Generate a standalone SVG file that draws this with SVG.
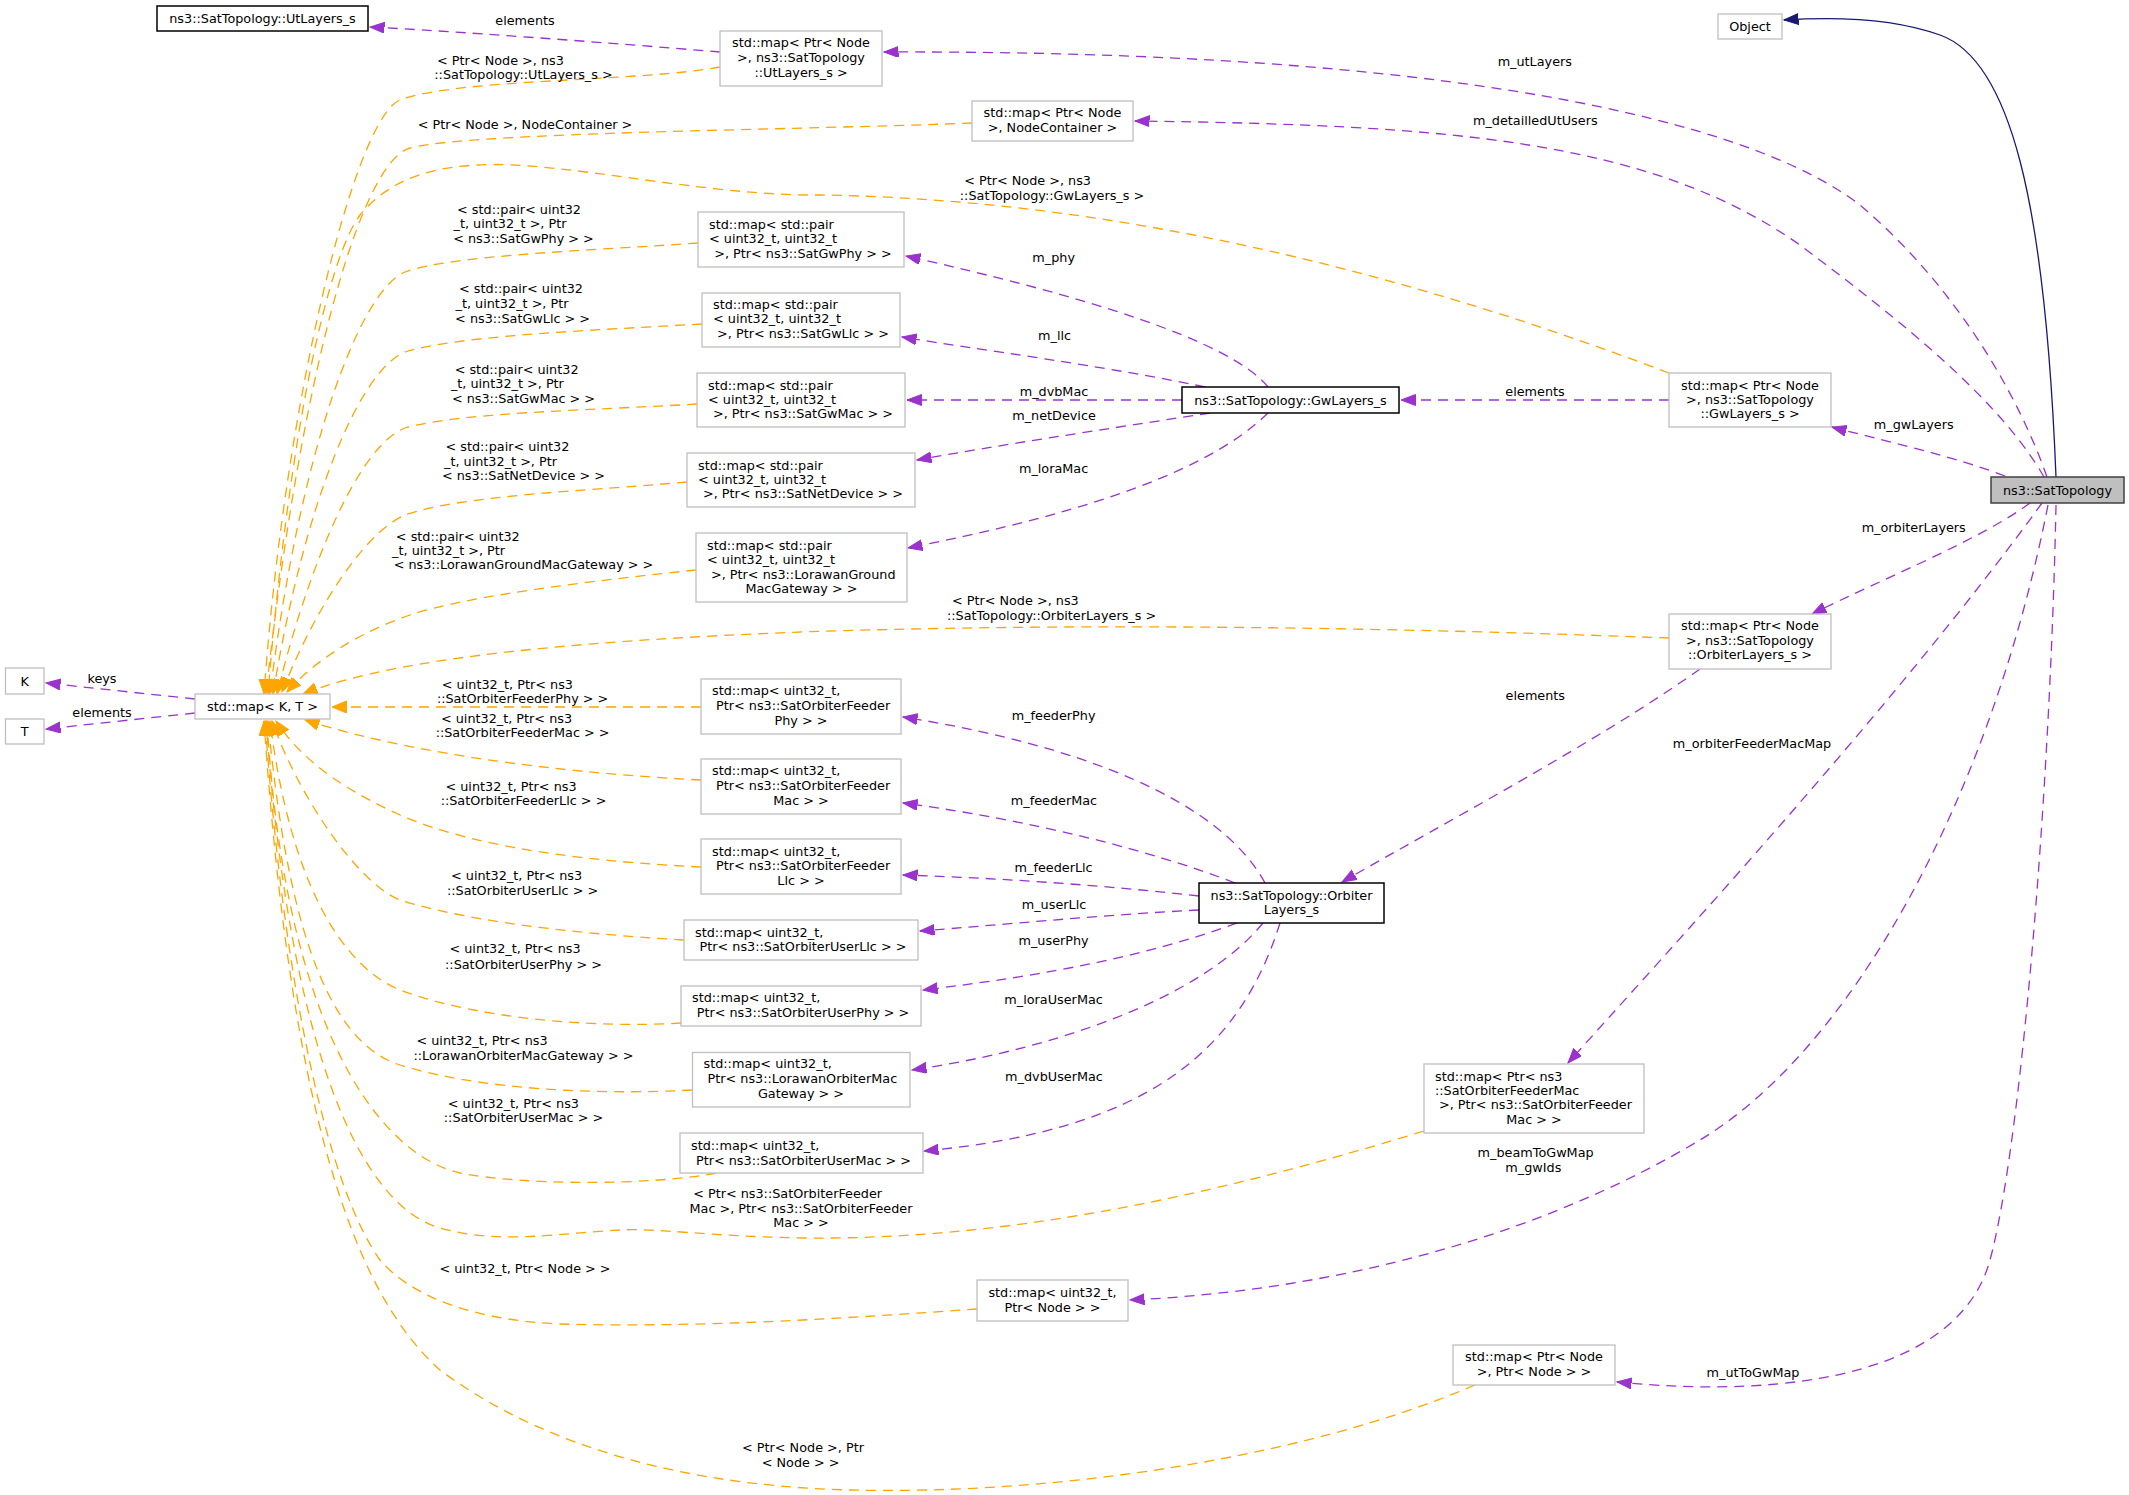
<svg xmlns="http://www.w3.org/2000/svg" width="2129" height="1495" viewBox="0 0 2129 1495">
<style>
text{font-family:"DejaVu Sans","Liberation Sans",sans-serif;font-size:12.8px;fill:#000}
.c{text-anchor:middle}
.node rect{fill:#fff;stroke:#bfbfbf;stroke-width:1.3}
.node.k rect{stroke:#000;stroke-width:1.5}
.node.root rect{fill:#bfbfbf;stroke:#404040;stroke-width:1.5}
.e{fill:none;stroke-width:1.3;stroke-dasharray:10,7}
.p{stroke:#9a32cd;marker-end:url(#ap)}
.o{stroke:#ffa500;marker-end:url(#ao)}
.n{fill:none;stroke:#191970;stroke-width:1.3;marker-end:url(#an)}
</style>
<defs>
<marker id="ap" markerUnits="userSpaceOnUse" markerWidth="16" markerHeight="12" refX="14.5" refY="5.5" orient="auto"><path d="M0,0 L14.5,5.5 L0,11 z" fill="#9a32cd" stroke="#9a32cd" stroke-width="1"/></marker>
<marker id="ao" markerUnits="userSpaceOnUse" markerWidth="16" markerHeight="13" refX="14.5" refY="6" orient="auto"><path d="M0,0 L14.5,6 L0,12 z" fill="#ffa500" stroke="#ffa500" stroke-width="1"/></marker>
<marker id="an" markerUnits="userSpaceOnUse" markerWidth="16" markerHeight="12" refX="14.5" refY="5.5" orient="auto"><path d="M0,0 L14.5,5.5 L0,11 z" fill="#191970" stroke="#191970" stroke-width="1"/></marker>
</defs>
<rect width="2129" height="1495" fill="#fff"/>
<g id="connectors">
<!-- orange template edges -->
<path class="e o" d="M720,67 C640,82 460,78 400,100 C355,118 285,400 264,694"/>
<path class="e o" d="M972,123 C800,130 470,132 410,148 C360,162 300,380 266,694"/>
<path class="e o" d="M1669,373 C1450,290 1150,200 820,195 C700,196 560,160 477,165 C420,168 385,185 360,215 C330,255 290,420 268,694"/>
<path class="e o" d="M698,243 C600,250 450,255 405,272 C360,290 300,450 270,694"/>
<path class="e o" d="M702,324 C600,330 460,335 405,352 C360,370 305,500 273,694"/>
<path class="e o" d="M697,404 C600,410 460,412 405,428 C360,445 310,560 277,694"/>
<path class="e o" d="M687,482 C600,490 460,495 405,515 C360,535 310,620 282,692"/>
<path class="e o" d="M696,570 C600,580 470,595 410,615 C360,632 315,660 287,692"/>
<path class="e o" d="M1669,638 C1400,628 1100,622 800,632 C600,640 400,655 303,694"/>
<path class="e o" d="M701,707 L332,707"/>
<path class="e o" d="M701,780 C600,775 430,760 305,720"/>
<path class="e o" d="M701,867 C600,862 480,850 400,815 C350,792 305,765 276,721"/>
<path class="e o" d="M684,940 C600,935 480,925 400,900 C360,885 300,800 272,721"/>
<path class="e o" d="M681,1023 C600,1028 480,1020 400,990 C340,965 290,880 270,721"/>
<path class="e o" d="M692,1090 C600,1095 480,1090 400,1065 C320,1040 285,900 268,721"/>
<path class="e o" d="M716,1173 C650,1186 520,1185 460,1173 C380,1155 285,1030 267,721"/>
<path class="e o" d="M1424,1131 C1200,1200 1000,1240 805,1238 C700,1236 660,1228 620,1230 C560,1233 500,1245 440,1228 C360,1205 290,1050 266,721"/>
<path class="e o" d="M977,1309 C850,1318 700,1328 560,1324 C470,1320 410,1295 380,1260 C330,1190 285,1000 265,721"/>
<path class="e o" d="M1475,1385 C1300,1460 1050,1495 850,1490 C650,1485 520,1430 440,1370 C350,1290 290,1100 264,721"/>
<!-- purple member edges -->
<path class="e p" d="M2047,477 C2020,400 1960,290 1860,205 C1750,120 1450,50 884,52"/>
<path class="e p" d="M2044,477 C2000,400 1900,320 1800,245 C1650,140 1450,125 1135,121"/>
<path class="e p" d="M2005,476 C1950,455 1880,440 1832,427"/>
<path class="e p" d="M2030,503 C1980,540 1880,580 1812,614"/>
<path class="e p" d="M2042,503 C1900,700 1660,960 1568,1063"/>
<path class="e p" d="M2048,505 C1990,800 1850,1050 1700,1140 C1550,1230 1350,1290 1130,1300"/>
<path class="e p" d="M2056,505 C2050,800 2020,1150 1990,1260 C1960,1370 1800,1400 1617,1382"/>
<path class="n" d="M2056,477 C2045,200 2010,60 1940,35 C1890,17 1830,17 1784,20"/>
<path class="e p" d="M1669,400 L1401,400"/>
<path class="e p" d="M1700,669 C1600,740 1450,820 1342,882"/>
<path class="e p" d="M720,52 C600,42 450,31 370,27"/>
<path class="e p" d="M1268,387 C1230,340 1080,295 906,256"/>
<path class="e p" d="M1205,387 C1100,365 980,350 902,337"/>
<path class="e p" d="M1182,400 L907,400"/>
<path class="e p" d="M1210,413 C1100,430 1000,445 917,460"/>
<path class="e p" d="M1268,413 C1200,480 1050,520 908,548"/>
<path class="e p" d="M1265,883 C1220,800 1080,745 903,717"/>
<path class="e p" d="M1235,883 C1150,850 1030,820 903,803"/>
<path class="e p" d="M1199,896 C1100,885 1000,878 903,875"/>
<path class="e p" d="M1199,910 C1100,915 1000,925 920,931"/>
<path class="e p" d="M1237,923 C1150,955 1050,975 923,990"/>
<path class="e p" d="M1263,923 C1200,1000 1050,1050 912,1070"/>
<path class="e p" d="M1280,923 C1240,1050 1150,1130 924,1151"/>
<path class="e p" d="M195,699 L46,683"/>
<path class="e p" d="M195,713 L46,729"/>
<!-- edge labels -->
<text class="c" x="525" y="25.3">elements</text>
<text class="c" x="500.5" y="64.6">&lt; Ptr&lt; Node &gt;, ns3</text>
<text class="c" x="523.5" y="79.3">::SatTopology::UtLayers_s &gt;</text>
<text class="c" x="525" y="128.9">&lt; Ptr&lt; Node &gt;, NodeContainer &gt;</text>
<text class="c" x="1027.6" y="184.9">&lt; Ptr&lt; Node &gt;, ns3</text>
<text class="c" x="1052" y="200.3">::SatTopology::GwLayers_s &gt;</text>
<text class="c" x="519" y="213.6">&lt; std::pair&lt; uint32</text>
<text class="c" x="510" y="228.3">_t, uint32_t &gt;, Ptr</text>
<text class="c" x="523.5" y="243.3">&lt; ns3::SatGwPhy &gt; &gt;</text>
<text class="c" x="521" y="293.3">&lt; std::pair&lt; uint32</text>
<text class="c" x="512" y="308.3">_t, uint32_t &gt;, Ptr</text>
<text class="c" x="522.6" y="322.9">&lt; ns3::SatGwLlc &gt; &gt;</text>
<text class="c" x="516.6" y="373.6">&lt; std::pair&lt; uint32</text>
<text class="c" x="507.4" y="388.3">_t, uint32_t &gt;, Ptr</text>
<text class="c" x="523.5" y="402.9">&lt; ns3::SatGwMac &gt; &gt;</text>
<text class="c" x="507.4" y="451.3">&lt; std::pair&lt; uint32</text>
<text class="c" x="500.5" y="465.6">_t, uint32_t &gt;, Ptr</text>
<text class="c" x="523.5" y="480.3">&lt; ns3::SatNetDevice &gt; &gt;</text>
<text class="c" x="457.8" y="540.6">&lt; std::pair&lt; uint32</text>
<text class="c" x="448.6" y="555.3">_t, uint32_t &gt;, Ptr</text>
<text class="c" x="523.5" y="569.3">&lt; ns3::LorawanGroundMacGateway &gt; &gt;</text>
<text class="c" x="1015.3" y="605.3">&lt; Ptr&lt; Node &gt;, ns3</text>
<text class="c" x="1051.6" y="620.3">::SatTopology::OrbiterLayers_s &gt;</text>
<text class="c" x="507.4" y="688.6">&lt; uint32_t, Ptr&lt; ns3</text>
<text class="c" x="522.6" y="703.3">::SatOrbiterFeederPhy &gt; &gt;</text>
<text class="c" x="506.5" y="723.3">&lt; uint32_t, Ptr&lt; ns3</text>
<text class="c" x="522.6" y="736.9">::SatOrbiterFeederMac &gt; &gt;</text>
<text class="c" x="511" y="791.3">&lt; uint32_t, Ptr&lt; ns3</text>
<text class="c" x="523.5" y="805.3">::SatOrbiterFeederLlc &gt; &gt;</text>
<text class="c" x="516.6" y="880.1">&lt; uint32_t, Ptr&lt; ns3</text>
<text class="c" x="522.6" y="895.1">::SatOrbiterUserLlc &gt; &gt;</text>
<text class="c" x="515" y="953.3">&lt; uint32_t, Ptr&lt; ns3</text>
<text class="c" x="523.5" y="968.8">::SatOrbiterUserPhy &gt; &gt;</text>
<text class="c" x="482" y="1044.9">&lt; uint32_t, Ptr&lt; ns3</text>
<text class="c" x="523.5" y="1060.4">::LorawanOrbiterMacGateway &gt; &gt;</text>
<text class="c" x="513.4" y="1108">&lt; uint32_t, Ptr&lt; ns3</text>
<text class="c" x="523.5" y="1122.2">::SatOrbiterUserMac &gt; &gt;</text>
<text class="c" x="787.6" y="1197.5">&lt; Ptr&lt; ns3::SatOrbiterFeeder</text>
<text class="c" x="801" y="1212.6">Mac &gt;, Ptr&lt; ns3::SatOrbiterFeeder</text>
<text class="c" x="801" y="1226.8">Mac &gt; &gt;</text>
<text class="c" x="525" y="1272.8">&lt; uint32_t, Ptr&lt; Node &gt; &gt;</text>
<text class="c" x="803" y="1451.9">&lt; Ptr&lt; Node &gt;, Ptr</text>
<text class="c" x="800.6" y="1467">&lt; Node &gt; &gt;</text>
<text class="c" x="1534.8" y="65.6">m_utLayers</text>
<text class="c" x="1535.3" y="125.3">m_detailledUtUsers</text>
<text class="c" x="1053.7" y="261.6">m_phy</text>
<text class="c" x="1054.6" y="340.3">m_llc</text>
<text class="c" x="1054" y="396.3">m_dvbMac</text>
<text class="c" x="1054" y="420.1">m_netDevice</text>
<text class="c" x="1053.6" y="473.3">m_loraMac</text>
<text class="c" x="1535" y="396.3">elements</text>
<text class="c" x="1913.7" y="428.6">m_gwLayers</text>
<text class="c" x="1913.7" y="532.3">m_orbiterLayers</text>
<text class="c" x="1535.3" y="700.3">elements</text>
<text class="c" x="1752" y="748.3">m_orbiterFeederMacMap</text>
<text class="c" x="1053.6" y="720.3">m_feederPhy</text>
<text class="c" x="1054" y="804.9">m_feederMac</text>
<text class="c" x="1053.6" y="871.9">m_feederLlc</text>
<text class="c" x="1054" y="909.4">m_userLlc</text>
<text class="c" x="1053.6" y="944.8">m_userPhy</text>
<text class="c" x="1053.6" y="1003.8">m_loraUserMac</text>
<text class="c" x="1054" y="1081.1">m_dvbUserMac</text>
<text class="c" x="1535.6" y="1157.3">m_beamToGwMap</text>
<text class="c" x="1533.3" y="1172.3">m_gwIds</text>
<text class="c" x="1753" y="1377.3">m_utToGwMap</text>
<text class="c" x="102" y="683.3">keys</text>
<text class="c" x="102" y="716.6">elements</text>
</g>
<g id="n_object" class="node"><rect x="1718" y="14" width="64" height="25"/><text class="c" x="1750" y="31">Object</text></g>
<g id="n_sattopology" class="node root"><rect x="1991" y="477" width="133" height="26"/><text class="c" x="2057.5" y="494.6">ns3::SatTopology</text></g>
<g id="n_utlayers_s" class="node k"><rect x="157" y="6" width="211" height="25"/><text class="c" x="262.5" y="23">ns3::SatTopology::UtLayers_s</text></g>
<g id="n_map_utlayers" class="node"><rect x="720" y="31" width="162" height="55"/><text class="c" x="801" y="47.3">std::map&lt; Ptr&lt; Node</text><text class="c" x="801" y="62.3">&gt;, ns3::SatTopology</text><text class="c" x="801" y="77">::UtLayers_s &gt;</text></g>
<g id="n_map_nodecontainer" class="node"><rect x="972" y="101" width="161" height="40"/><text class="c" x="1052.5" y="117.3">std::map&lt; Ptr&lt; Node</text><text class="c" x="1052.5" y="132.3">&gt;, NodeContainer &gt;</text></g>
<g id="n_map_gwphy" class="node"><rect x="698" y="212" width="206" height="55"/><text x="709" y="229.3">std::map&lt; std::pair</text><text x="709" y="243.3">&lt; uint32_t, uint32_t</text><text class="c" x="803" y="258">&gt;, Ptr&lt; ns3::SatGwPhy &gt; &gt;</text></g>
<g id="n_map_gwllc" class="node"><rect x="702" y="293" width="198" height="54"/><text x="713" y="309.3">std::map&lt; std::pair</text><text x="713" y="323.3">&lt; uint32_t, uint32_t</text><text class="c" x="803" y="338">&gt;, Ptr&lt; ns3::SatGwLlc &gt; &gt;</text></g>
<g id="n_map_gwmac" class="node"><rect x="697" y="373" width="208" height="54"/><text x="708" y="389.6">std::map&lt; std::pair</text><text x="708" y="403.6">&lt; uint32_t, uint32_t</text><text class="c" x="803" y="418">&gt;, Ptr&lt; ns3::SatGwMac &gt; &gt;</text></g>
<g id="n_gwlayers_s" class="node k"><rect x="1182" y="387" width="217" height="26"/><text class="c" x="1290.5" y="404.6">ns3::SatTopology::GwLayers_s</text></g>
<g id="n_map_netdevice" class="node"><rect x="687" y="453" width="228" height="54"/><text x="698" y="469.6">std::map&lt; std::pair</text><text x="698" y="483.6">&lt; uint32_t, uint32_t</text><text class="c" x="803" y="498.3">&gt;, Ptr&lt; ns3::SatNetDevice &gt; &gt;</text></g>
<g id="n_map_loraground" class="node"><rect x="696" y="533" width="211" height="69"/><text x="707" y="549.6">std::map&lt; std::pair</text><text x="707" y="564.3">&lt; uint32_t, uint32_t</text><text x="711" y="579.3">&gt;, Ptr&lt; ns3::LorawanGround</text><text class="c" x="801.5" y="593.3">MacGateway &gt; &gt;</text></g>
<g id="n_map_gwlayers" class="node"><rect x="1669" y="373" width="162" height="54"/><text class="c" x="1750" y="389.6">std::map&lt; Ptr&lt; Node</text><text class="c" x="1750" y="404">&gt;, ns3::SatTopology</text><text class="c" x="1750" y="418.3">::GwLayers_s &gt;</text></g>
<g id="n_map_orbiterlayers" class="node"><rect x="1669" y="614" width="162" height="55"/><text class="c" x="1750" y="630.3">std::map&lt; Ptr&lt; Node</text><text class="c" x="1750" y="645">&gt;, ns3::SatTopology</text><text class="c" x="1750" y="659">::OrbiterLayers_s &gt;</text></g>
<g id="n_k" class="node"><rect x="5.5" y="668" width="38.5" height="26"/><text class="c" x="24.75" y="685.6">K</text></g>
<g id="n_t" class="node"><rect x="5.5" y="719" width="38.5" height="25"/><text class="c" x="24.75" y="736">T</text></g>
<g id="n_map_kt" class="node"><rect x="195" y="694" width="135" height="25"/><text class="c" x="262.5" y="711">std::map&lt; K, T &gt;</text></g>
<g id="n_map_feederphy" class="node"><rect x="701" y="679" width="200" height="55"/><text x="712" y="695.3">std::map&lt; uint32_t,</text><text x="716" y="710">Ptr&lt; ns3::SatOrbiterFeeder</text><text class="c" x="801" y="725.3">Phy &gt; &gt;</text></g>
<g id="n_map_feedermac" class="node"><rect x="701" y="759" width="200" height="55"/><text x="712" y="775.3">std::map&lt; uint32_t,</text><text x="716" y="790">Ptr&lt; ns3::SatOrbiterFeeder</text><text class="c" x="801" y="804.6">Mac &gt; &gt;</text></g>
<g id="n_map_feederllc" class="node"><rect x="701" y="839" width="200" height="55"/><text x="712" y="855.6">std::map&lt; uint32_t,</text><text x="716" y="870.3">Ptr&lt; ns3::SatOrbiterFeeder</text><text class="c" x="801" y="884.6">Llc &gt; &gt;</text></g>
<g id="n_orbiterlayers_s" class="node k"><rect x="1199" y="883" width="185" height="40"/><text class="c" x="1291.5" y="899.6">ns3::SatTopology::Orbiter</text><text class="c" x="1291.5" y="913.8">Layers_s</text></g>
<g id="n_map_userllc" class="node"><rect x="684" y="920" width="234" height="40"/><text x="695" y="936.6">std::map&lt; uint32_t,</text><text class="c" x="803" y="951.3">Ptr&lt; ns3::SatOrbiterUserLlc &gt; &gt;</text></g>
<g id="n_map_userphy" class="node"><rect x="681" y="986" width="240" height="40"/><text x="692" y="1002.2">std::map&lt; uint32_t,</text><text class="c" x="803" y="1016.8">Ptr&lt; ns3::SatOrbiterUserPhy &gt; &gt;</text></g>
<g id="n_map_loraorbiter" class="node"><rect x="692.5" y="1052.5" width="217.5" height="54.5"/><text x="703.5" y="1068.1">std::map&lt; uint32_t,</text><text x="707.5" y="1083.2">Ptr&lt; ns3::LorawanOrbiterMac</text><text class="c" x="801" y="1098.2">Gateway &gt; &gt;</text></g>
<g id="n_map_usermac" class="node"><rect x="680" y="1133" width="243" height="40"/><text x="691" y="1149.5">std::map&lt; uint32_t,</text><text class="c" x="803.5" y="1164.6">Ptr&lt; ns3::SatOrbiterUserMac &gt; &gt;</text></g>
<g id="n_map_feedermacmap" class="node"><rect x="1424" y="1064" width="220" height="69"/><text x="1435" y="1080.6">std::map&lt; Ptr&lt; ns3</text><text x="1435" y="1095.3">::SatOrbiterFeederMac</text><text x="1439" y="1109.3">&gt;, Ptr&lt; ns3::SatOrbiterFeeder</text><text class="c" x="1534" y="1123.9">Mac &gt; &gt;</text></g>
<g id="n_map_uint_node" class="node"><rect x="977" y="1280" width="151" height="41"/><text class="c" x="1052.5" y="1297.2">std::map&lt; uint32_t,</text><text class="c" x="1052.5" y="1311.5">Ptr&lt; Node &gt; &gt;</text></g>
<g id="n_map_node_node" class="node"><rect x="1453" y="1345" width="162" height="40"/><text class="c" x="1534" y="1361">std::map&lt; Ptr&lt; Node</text><text class="c" x="1534" y="1376">&gt;, Ptr&lt; Node &gt; &gt;</text></g>
</svg>
